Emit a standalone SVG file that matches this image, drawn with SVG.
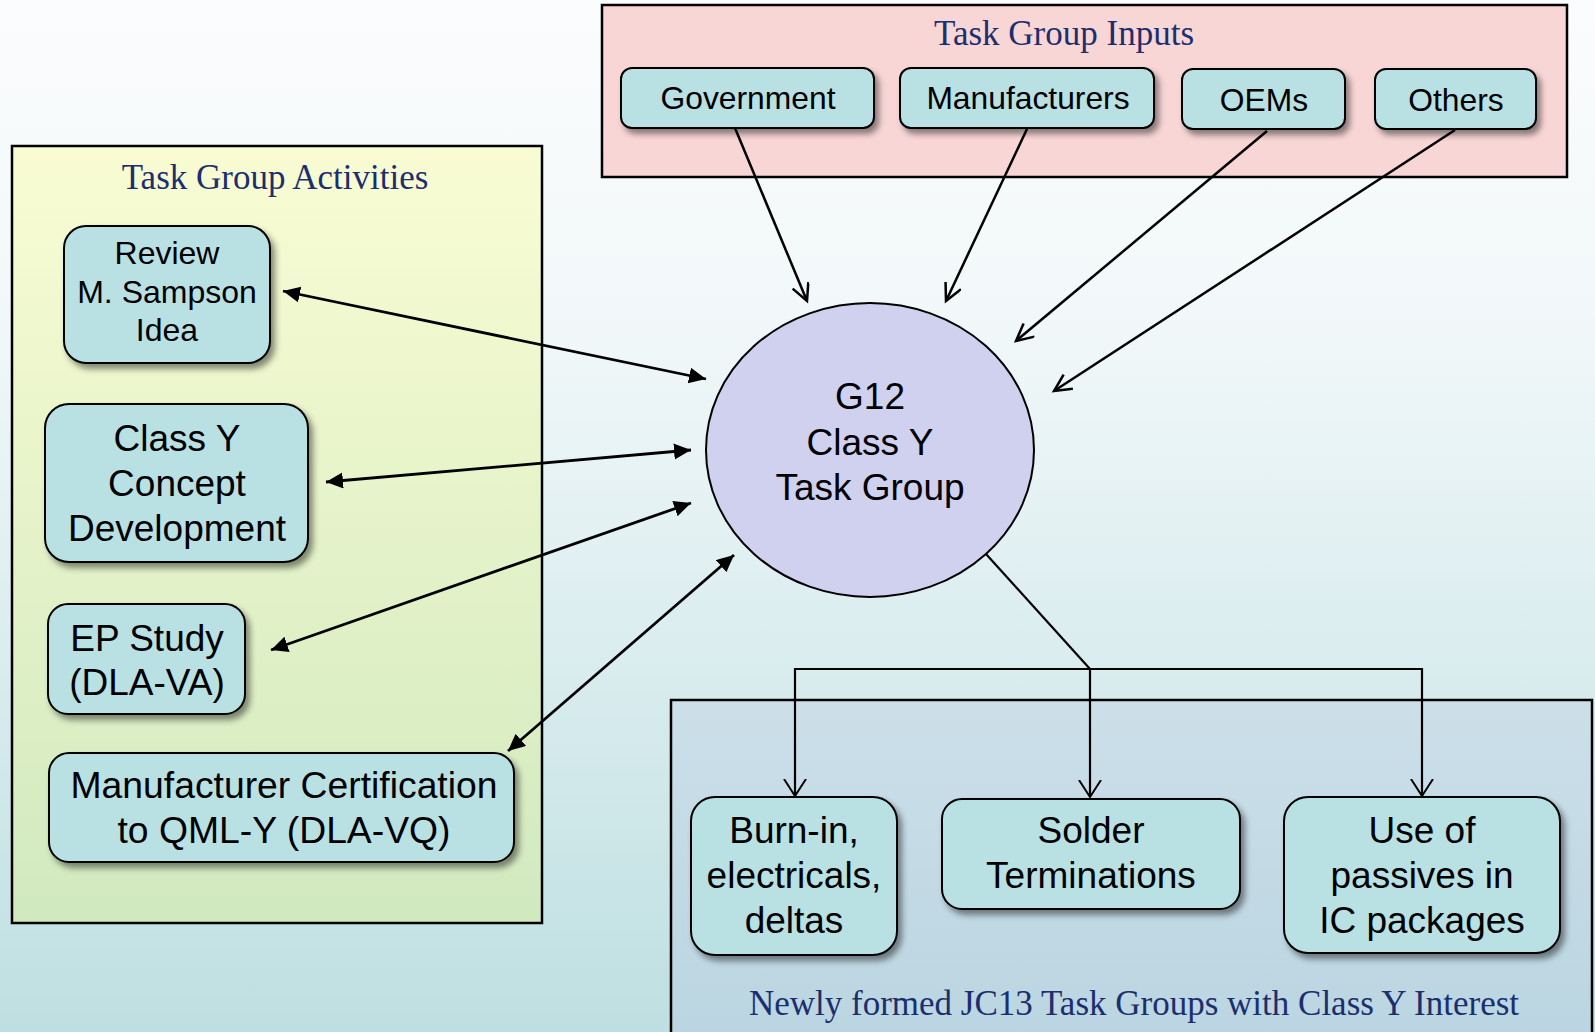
<svg xmlns="http://www.w3.org/2000/svg" width="1595" height="1032" viewBox="0 0 1595 1032">
  <defs>
    <linearGradient id="bg" x1="0" y1="0" x2="0" y2="1">
      <stop offset="0" stop-color="#FBFCFD"/>
      <stop offset="0.3" stop-color="#F2F8F9"/>
      <stop offset="0.6" stop-color="#DDEEF0"/>
      <stop offset="1" stop-color="#BEDFE1"/>
    </linearGradient>
    <linearGradient id="yellow" x1="0" y1="0" x2="0" y2="1">
      <stop offset="0" stop-color="#F9FCD3"/>
      <stop offset="1" stop-color="#D1E9BF"/>
    </linearGradient>
    <linearGradient id="blue" x1="0" y1="0" x2="0" y2="1">
      <stop offset="0" stop-color="#CCDFE9"/>
      <stop offset="1" stop-color="#BAD5E1"/>
    </linearGradient>
    <filter id="shadow" x="-10%" y="-10%" width="125%" height="130%">
      <feDropShadow dx="4" dy="5" stdDeviation="3" flood-color="#000" flood-opacity="0.45"/>
    </filter>
    <marker id="open" markerUnits="userSpaceOnUse" markerWidth="22" markerHeight="22" refX="18" refY="9" orient="auto">
      <path d="M1,0.5 L18,9 L1,17.5" fill="none" stroke="#000" stroke-width="2.5"/>
    </marker>
    <marker id="open2" markerUnits="userSpaceOnUse" markerWidth="22" markerHeight="26" refX="17" refY="12" orient="auto">
      <path d="M0,1 L17,12 L0,23" fill="none" stroke="#000" stroke-width="2"/>
    </marker>
    <marker id="solid" markerUnits="userSpaceOnUse" markerWidth="20" markerHeight="20" refX="17" refY="8" orient="auto-start-reverse">
      <path d="M0,0 L17,8 L0,16 Z" fill="#000"/>
    </marker>
  </defs>
  <style>
    .grp { stroke: #000; stroke-width: 2.5; }
    .title { font-family: "Liberation Serif", "Times New Roman", serif; font-size: 35px; fill: #1B2F6E; text-anchor: middle; }
    .node rect { fill: #B9E0E2; stroke: #000; stroke-width: 2; filter: url(#shadow); }
    .node text { font-family: "Liberation Sans", Arial, sans-serif; fill: #000; text-anchor: middle; }
    .conn { fill: none; stroke: #000; }
    .in { stroke-width: 2.5; marker-end: url(#open); }
    .both { stroke-width: 2.8; marker-start: url(#solid); marker-end: url(#solid); }
    .out { stroke-width: 2.2; }
  </style>

  <rect x="0" y="0" width="1595" height="1032" fill="url(#bg)"/>

  <!-- group containers -->
  <g id="inputs-group">
    <rect class="grp" x="602" y="5" width="965" height="172" fill="#F9D6D6"/>
    <text class="title" x="1064" y="45">Task Group Inputs</text>
  </g>
  <g id="activities-group">
    <rect class="grp" x="12" y="146" width="530" height="777" fill="url(#yellow)"/>
    <text class="title" x="275" y="189">Task Group Activities</text>
  </g>
  <g id="jc13-group">
    <rect class="grp" x="671" y="700" width="921" height="345" fill="url(#blue)"/>
    <text class="title" x="1134" y="1015">Newly formed JC13 Task Groups with Class Y Interest</text>
  </g>

  <!-- connectors -->
  <g id="connectors">
    <line class="conn in" x1="735" y1="128" x2="807" y2="301"/>
    <line class="conn in" x1="1027" y1="129" x2="946" y2="301"/>
    <line class="conn in" x1="1267" y1="131" x2="1016" y2="341"/>
    <line class="conn in" x1="1455" y1="130" x2="1054" y2="391"/>

    <line class="conn both" x1="283" y1="291" x2="706" y2="379"/>
    <line class="conn both" x1="326" y1="482" x2="691" y2="450"/>
    <line class="conn both" x1="271" y1="650" x2="691" y2="503"/>
    <line class="conn both" x1="508" y1="751" x2="734" y2="555"/>

    <path class="conn out" d="M986,554 L1090,669"/>
    <path class="conn out" d="M1090,669 L795,669 L795,796" marker-end="url(#open2)"/>
    <path class="conn out" d="M1090,669 L1090,797" marker-end="url(#open2)"/>
    <path class="conn out" d="M1090,669 L1422,669 L1422,796" marker-end="url(#open2)"/>
  </g>

  <!-- input nodes -->
  <g id="government" class="node">
    <rect x="621" y="68" width="253" height="60" rx="11"/>
    <text x="748" y="109" font-size="31.8">Government</text>
  </g>
  <g id="manufacturers" class="node">
    <rect x="900" y="68" width="254" height="60" rx="11"/>
    <text x="1028" y="109" font-size="31.8">Manufacturers</text>
  </g>
  <g id="oems" class="node">
    <rect x="1182" y="69" width="163" height="60" rx="11"/>
    <text x="1264" y="111" font-size="31.8">OEMs</text>
  </g>
  <g id="others" class="node">
    <rect x="1375" y="69" width="161" height="60" rx="11"/>
    <text x="1456" y="111" font-size="31.8">Others</text>
  </g>

  <!-- activity nodes -->
  <g id="review" class="node">
    <rect x="64" y="226" width="206" height="137" rx="22"/>
    <text x="167" y="264" font-size="32">Review</text>
    <text x="167" y="303" font-size="32">M. Sampson</text>
    <text x="167" y="341" font-size="32">Idea</text>
  </g>
  <g id="concept" class="node">
    <rect x="45" y="404" width="263" height="158" rx="24"/>
    <text x="177" y="451" font-size="37">Class Y</text>
    <text x="177" y="496" font-size="37">Concept</text>
    <text x="177" y="541" font-size="37">Development</text>
  </g>
  <g id="ep-study" class="node">
    <rect x="48" y="604" width="197" height="110" rx="20"/>
    <text x="147" y="651" font-size="37">EP Study</text>
    <text x="147" y="695" font-size="37">(DLA-VA)</text>
  </g>
  <g id="mfr-cert" class="node">
    <rect x="49" y="753" width="465" height="109" rx="20"/>
    <text x="284" y="798" font-size="37.3">Manufacturer Certification</text>
    <text x="284" y="843" font-size="37.3">to QML-Y (DLA-VQ)</text>
  </g>

  <!-- central node -->
  <g id="g12" class="node">
    <ellipse cx="870" cy="450" rx="164" ry="147" fill="#D0D0EF" stroke="#000" stroke-width="2"/>
    <text x="870" y="409" font-size="37">G12</text>
    <text x="870" y="455" font-size="37">Class Y</text>
    <text x="870" y="500" font-size="37">Task Group</text>
  </g>

  <!-- JC13 task groups -->
  <g id="burn-in" class="node">
    <rect x="691" y="797" width="206" height="158" rx="24"/>
    <text x="794" y="843" font-size="37">Burn-in,</text>
    <text x="794" y="888" font-size="37">electricals,</text>
    <text x="794" y="933" font-size="37">deltas</text>
  </g>
  <g id="solder" class="node">
    <rect x="942" y="799" width="298" height="110" rx="20"/>
    <text x="1091" y="843" font-size="37">Solder</text>
    <text x="1091" y="888" font-size="37">Terminations</text>
  </g>
  <g id="passives" class="node">
    <rect x="1284" y="797" width="276" height="156" rx="24"/>
    <text x="1422" y="843" font-size="37">Use of</text>
    <text x="1422" y="888" font-size="37">passives in</text>
    <text x="1422" y="933" font-size="37">IC packages</text>
  </g>
</svg>
